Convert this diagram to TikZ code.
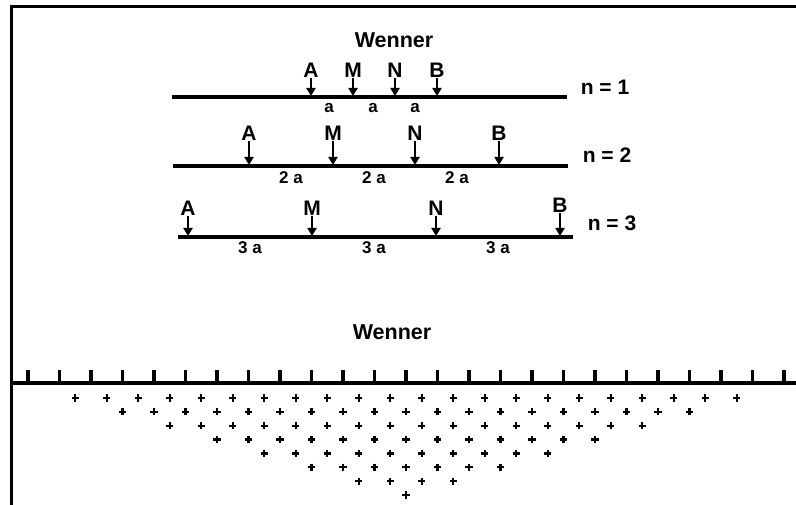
\documentclass[tikz,border=0pt]{standalone}
\usepackage{fontspec}
\setmainfont{Liberation Sans}
\usetikzlibrary{arrows.meta}
\begin{document}
\begin{tikzpicture}[x=1pt,y=-1pt,
  title/.style={font=\fontsize{21.5}{21.5}\selectfont\bfseries, inner sep=0pt},
  elec/.style={font=\fontsize{21}{21}\selectfont\bfseries, inner sep=0pt},
  nlbl/.style={font=\fontsize{21}{21}\selectfont\bfseries, inner sep=0pt},
  dist/.style={font=\fontsize{17}{17}\selectfont\bfseries, inner sep=0pt},
  spread/.style={line width=3.6pt},
  elarrow/.style={line width=2.2pt, -{Triangle[width=9pt,length=8pt]}, shorten <=1pt},
  frame/.style={line width=3pt},
  tick/.style={line width=3.4pt},
  plusmark/.style={line width=2.2pt}]
\useasboundingbox (0,0) rectangle (796,505);

% frame
\draw[frame] (796,7) -- (11,7) -- (11,505);

% titles
\node[title] (t1) at (394,40) {Wenner};
\node[title] (t2) at (392,332) {Wenner};

% ---- n = 1
\coordinate (l1s) at (172,97); \coordinate (l1e) at (567,97);
\draw[spread] (l1s) -- (l1e);
\foreach \nm/\x in {A/311,M/353,N/395,B/437}{
  \node[elec] (\nm1) at (\x,70) {\nm};
  \coordinate (\nm1p) at (\x,96);
  \draw[elarrow] (\nm1) -- (\nm1p);
}
\node[dist] (d11) at (329,108) {a};
\node[dist] (d12) at (373,108) {a};
\node[dist] (d13) at (415,108) {a};
\node[nlbl] (n1) at (605,87) {n = 1};

% ---- n = 2
\coordinate (l2s) at (173,166); \coordinate (l2e) at (568,166);
\draw[spread] (l2s) -- (l2e);
\foreach \nm/\x in {A/249,M/333,N/415,B/499}{
  \node[elec] (\nm2) at (\x,133) {\nm};
  \coordinate (\nm2p) at (\x,165);
  \draw[elarrow] (\nm2) -- (\nm2p);
}
\node[dist] (d21) at (291,178) {2 a};
\node[dist] (d22) at (374,178) {2 a};
\node[dist] (d23) at (457,178) {2 a};
\node[nlbl] (n2) at (607,155) {n = 2};

% ---- n = 3
\coordinate (l3s) at (178,237); \coordinate (l3e) at (573,237);
\draw[spread] (l3s) -- (l3e);
\foreach \nm/\x/\y in {A/188/208,M/312/208,N/436/208,B/560/205}{
  \node[elec] (\nm3) at (\x,\y) {\nm};
  \coordinate (\nm3p) at (\x,236);
  \draw[elarrow] (\nm3) -- (\nm3p);
}
\node[dist] (d31) at (250,248) {3 a};
\node[dist] (d32) at (374,248) {3 a};
\node[dist] (d33) at (498,248) {3 a};
\node[nlbl] (n3) at (612,223) {n = 3};

% ---- profile with electrodes
\coordinate (gs) at (12,383); \coordinate (ge) at (796,383);
\draw[tick] (gs) -- (ge);
\foreach \i in {0,...,24}{
  \draw[tick] ({28+31.5*\i},383) -- ({28+31.5*\i},370);
}

% ---- pseudosection points
\foreach \n in {1,...,8}{
  \pgfmathtruncatemacro\imax{24-3*\n}
  \pgfmathsetmacro\yy{398+13.85*(\n-1)}
  \foreach \i in {0,...,\imax}{
    \pgfmathsetmacro\xx{28+31.5*(\i+1.5*\n)}
    \draw[plusmark] (\xx-3.6,\yy) -- (\xx+3.6,\yy) (\xx,\yy-3.6) -- (\xx,\yy+3.6);
  }
}
\end{tikzpicture}
\end{document}
